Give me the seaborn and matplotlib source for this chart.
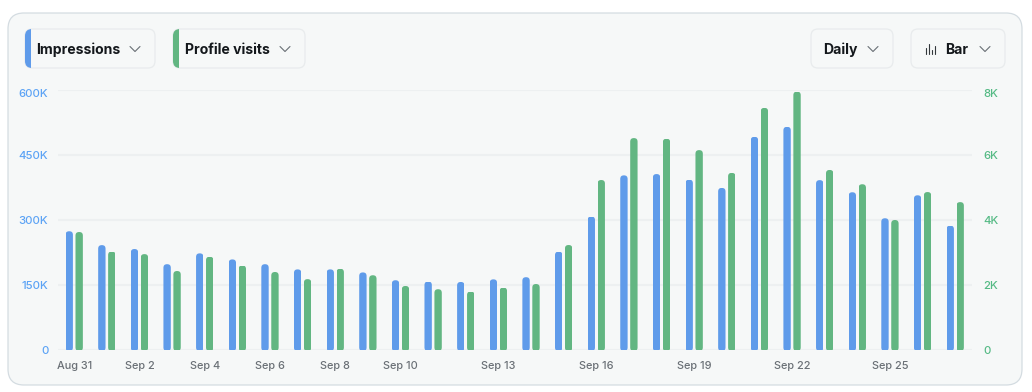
import matplotlib
matplotlib.use("Agg")
import matplotlib.pyplot as plt
import seaborn as sns
import pandas as pd
from matplotlib.patches import FancyBboxPatch, Rectangle
from matplotlib.transforms import offset_copy

dates = ["Aug 31","Sep 1","Sep 2","Sep 3","Sep 4","Sep 5","Sep 6","Sep 7","Sep 8","Sep 9","Sep 10","Sep 11","Sep 12","Sep 13",
         "Sep 14","Sep 15","Sep 16","Sep 17","Sep 18","Sep 19","Sep 20","Sep 21","Sep 22","Sep 23","Sep 24","Sep 25","Sep 26","Sep 27"]
impressions = [274,242,233,198,223,209,198,186,186,179,161,158,157,163,168,227,308,403,406,393,374,492,515,392,364,304,357,287]
impressions = [v*1000 for v in impressions]
profile_visits = [3630,3030,2950,2430,2870,2600,2400,2180,2500,2300,1970,1870,1800,1920,2030,3230,5230,6520,6500,6150,5450,7450,7950,5540,5100,4000,4860,4550]
left_ticks = [0,150000,300000,450000,600000]
left_labels = ["0","150K","300K","450K","600K"]
right_ticks = [0,2000,4000,6000,8000]
right_labels = ["0","2K","4K","6K","8K"]
shown_dates = ["Aug 31","Sep 2","Sep 4","Sep 6","Sep 8","Sep 10","Sep 13","Sep 16","Sep 19","Sep 22","Sep 25"]
series = ["Impressions","Profile visits"]

BLUE, GREEN = "#5F9BEA", "#62B682"
BLUE_T, GREEN_T = "#5CA3F5", "#55BA85"
BG, BORDER, CHIP, GRID = "#F6F8F8", "#D4DCE1", "#E8EBED", "#EDF0F1"
INK, MUTED = "#14181C", "#6A7076"
W, H = 1032, 392

sns.set_theme(style="white")
plt.rcParams["font.family"] = ["Inter", "DejaVu Sans"]
fig = plt.figure(figsize=(W/100, H/100), dpi=100, facecolor="white")

# overlay in pixel coordinates for the card and controls
bgax = fig.add_axes([0, 0, 1, 1], zorder=0)
bgax.set_xlim(0, W); bgax.set_ylim(H, 0); bgax.axis("off")
bgax.add_patch(FancyBboxPatch((8, 13), 1014, 372, boxstyle="round,pad=0,rounding_size=16",
                              fc=BG, ec=BORDER, lw=0.9))

def chip(x0, x1, label, tx, chev, accent=None):
    p = FancyBboxPatch((x0, 29), x1-x0, 39, boxstyle="round,pad=0,rounding_size=7", fc=BG, ec=CHIP, lw=0.9)
    bgax.add_patch(p)
    if accent:
        r = Rectangle((x0, 29), 6, 39, fc=accent, ec="none")
        bgax.add_patch(r)
        r.set_clip_path(p)
    bgax.text(tx, 50, label, fontsize=10.1, fontweight="bold", color=INK, va="center", ha="left")
    bgax.plot([chev-5, chev, chev+5], [46.5, 51.5, 46.5], color=MUTED, lw=0.8)

chip(25, 155, "Impressions", 36, 135, BLUE)
chip(173, 305, "Profile visits", 185, 285, GREEN)
chip(811, 893, "Daily", 823, 873)
chip(911, 1005, "Bar", 945, 985)
for x, top in zip([926, 929, 932, 935], [48, 44, 50, 46]):
    bgax.plot([x, x], [top, 54], color="#33383C", lw=0.8)

df = pd.DataFrame({"date": dates*2,
                   "series": [series[0]]*len(dates) + [series[1]]*len(dates),
                   "value": impressions + profile_visits})

px_l, px_r, px_t, px_b = 58, 972, 90, 350
ax = fig.add_axes([px_l/W, 1-px_b/H, (px_r-px_l)/W, (px_b-px_t)/H], zorder=1)
ax.patch.set_alpha(0)
ax2 = ax.twinx()
ax2.patch.set_alpha(0)

for a, name in [(ax, series[0]), (ax2, series[1])]:
    sns.barplot(data=df[df.series == name], x="date", y="value", hue="series", order=dates,
                hue_order=series, palette={series[0]: BLUE, series[1]: GREEN}, width=0.61, gap=0.26,
                saturation=1, dodge=True, legend=False, ax=a, zorder=3)

ax.set_ylim(0, 600000); ax2.set_ylim(0, 8000)
STEP = 32.63
xlim = ((px_l-74.2)/STEP, (px_r-74.2)/STEP)
ax.set_xlim(*xlim)

# rounded bar ends
for a, ymax in [(ax, 600000), (ax2, 8000)]:
    ypp = ymax/(px_b-px_t)   # data per pixel
    xpp = 1/STEP
    for b in a.patches:
        if b.get_height() == 0 or b.get_width() == 0:
            continue
        clip = FancyBboxPatch((b.get_x(), -ypp), b.get_width(), b.get_height()+ypp,
                              boxstyle=f"round,pad=0,rounding_size={3.5*xpp}",
                              mutation_aspect=ypp/xpp, transform=a.transData)
        b.set_clip_path(clip)
        b.set_clip_on(True)
        b.set_linewidth(0)

ax.set_yticks(left_ticks, left_labels)
ax2.set_yticks(right_ticks, right_labels)
ax.set_xticks([dates.index(d) for d in shown_dates], shown_dates)
ax.set_xlabel(""); ax.set_ylabel(""); ax2.set_xlabel(""); ax2.set_ylabel("")
ax.grid(False); ax2.grid(False)
ax.yaxis.grid(True, color=GRID, lw=1.5, zorder=0)
ax.set_axisbelow(True)
for a in (ax, ax2):
    for s in a.spines.values():
        s.set_visible(False)
ax.tick_params(axis="y", length=0, pad=7, labelsize=8.2, labelcolor=BLUE_T)
ax2.tick_params(axis="y", length=0, pad=8, labelsize=8.2, labelcolor=GREEN_T)
ax.tick_params(axis="x", length=0, pad=8, labelsize=7.9, labelcolor=MUTED)
for lab in ax.get_yticklabels() + ax2.get_yticklabels() + ax.get_xticklabels():
    lab.set_fontweight("medium")
for a in (ax, ax2):
    lab = a.get_yticklabels()[-1]
    lab.set_transform(offset_copy(lab.get_transform(), fig=fig, y=-3, units="dots"))

fig.savefig("out.png", dpi=100, facecolor="white")
